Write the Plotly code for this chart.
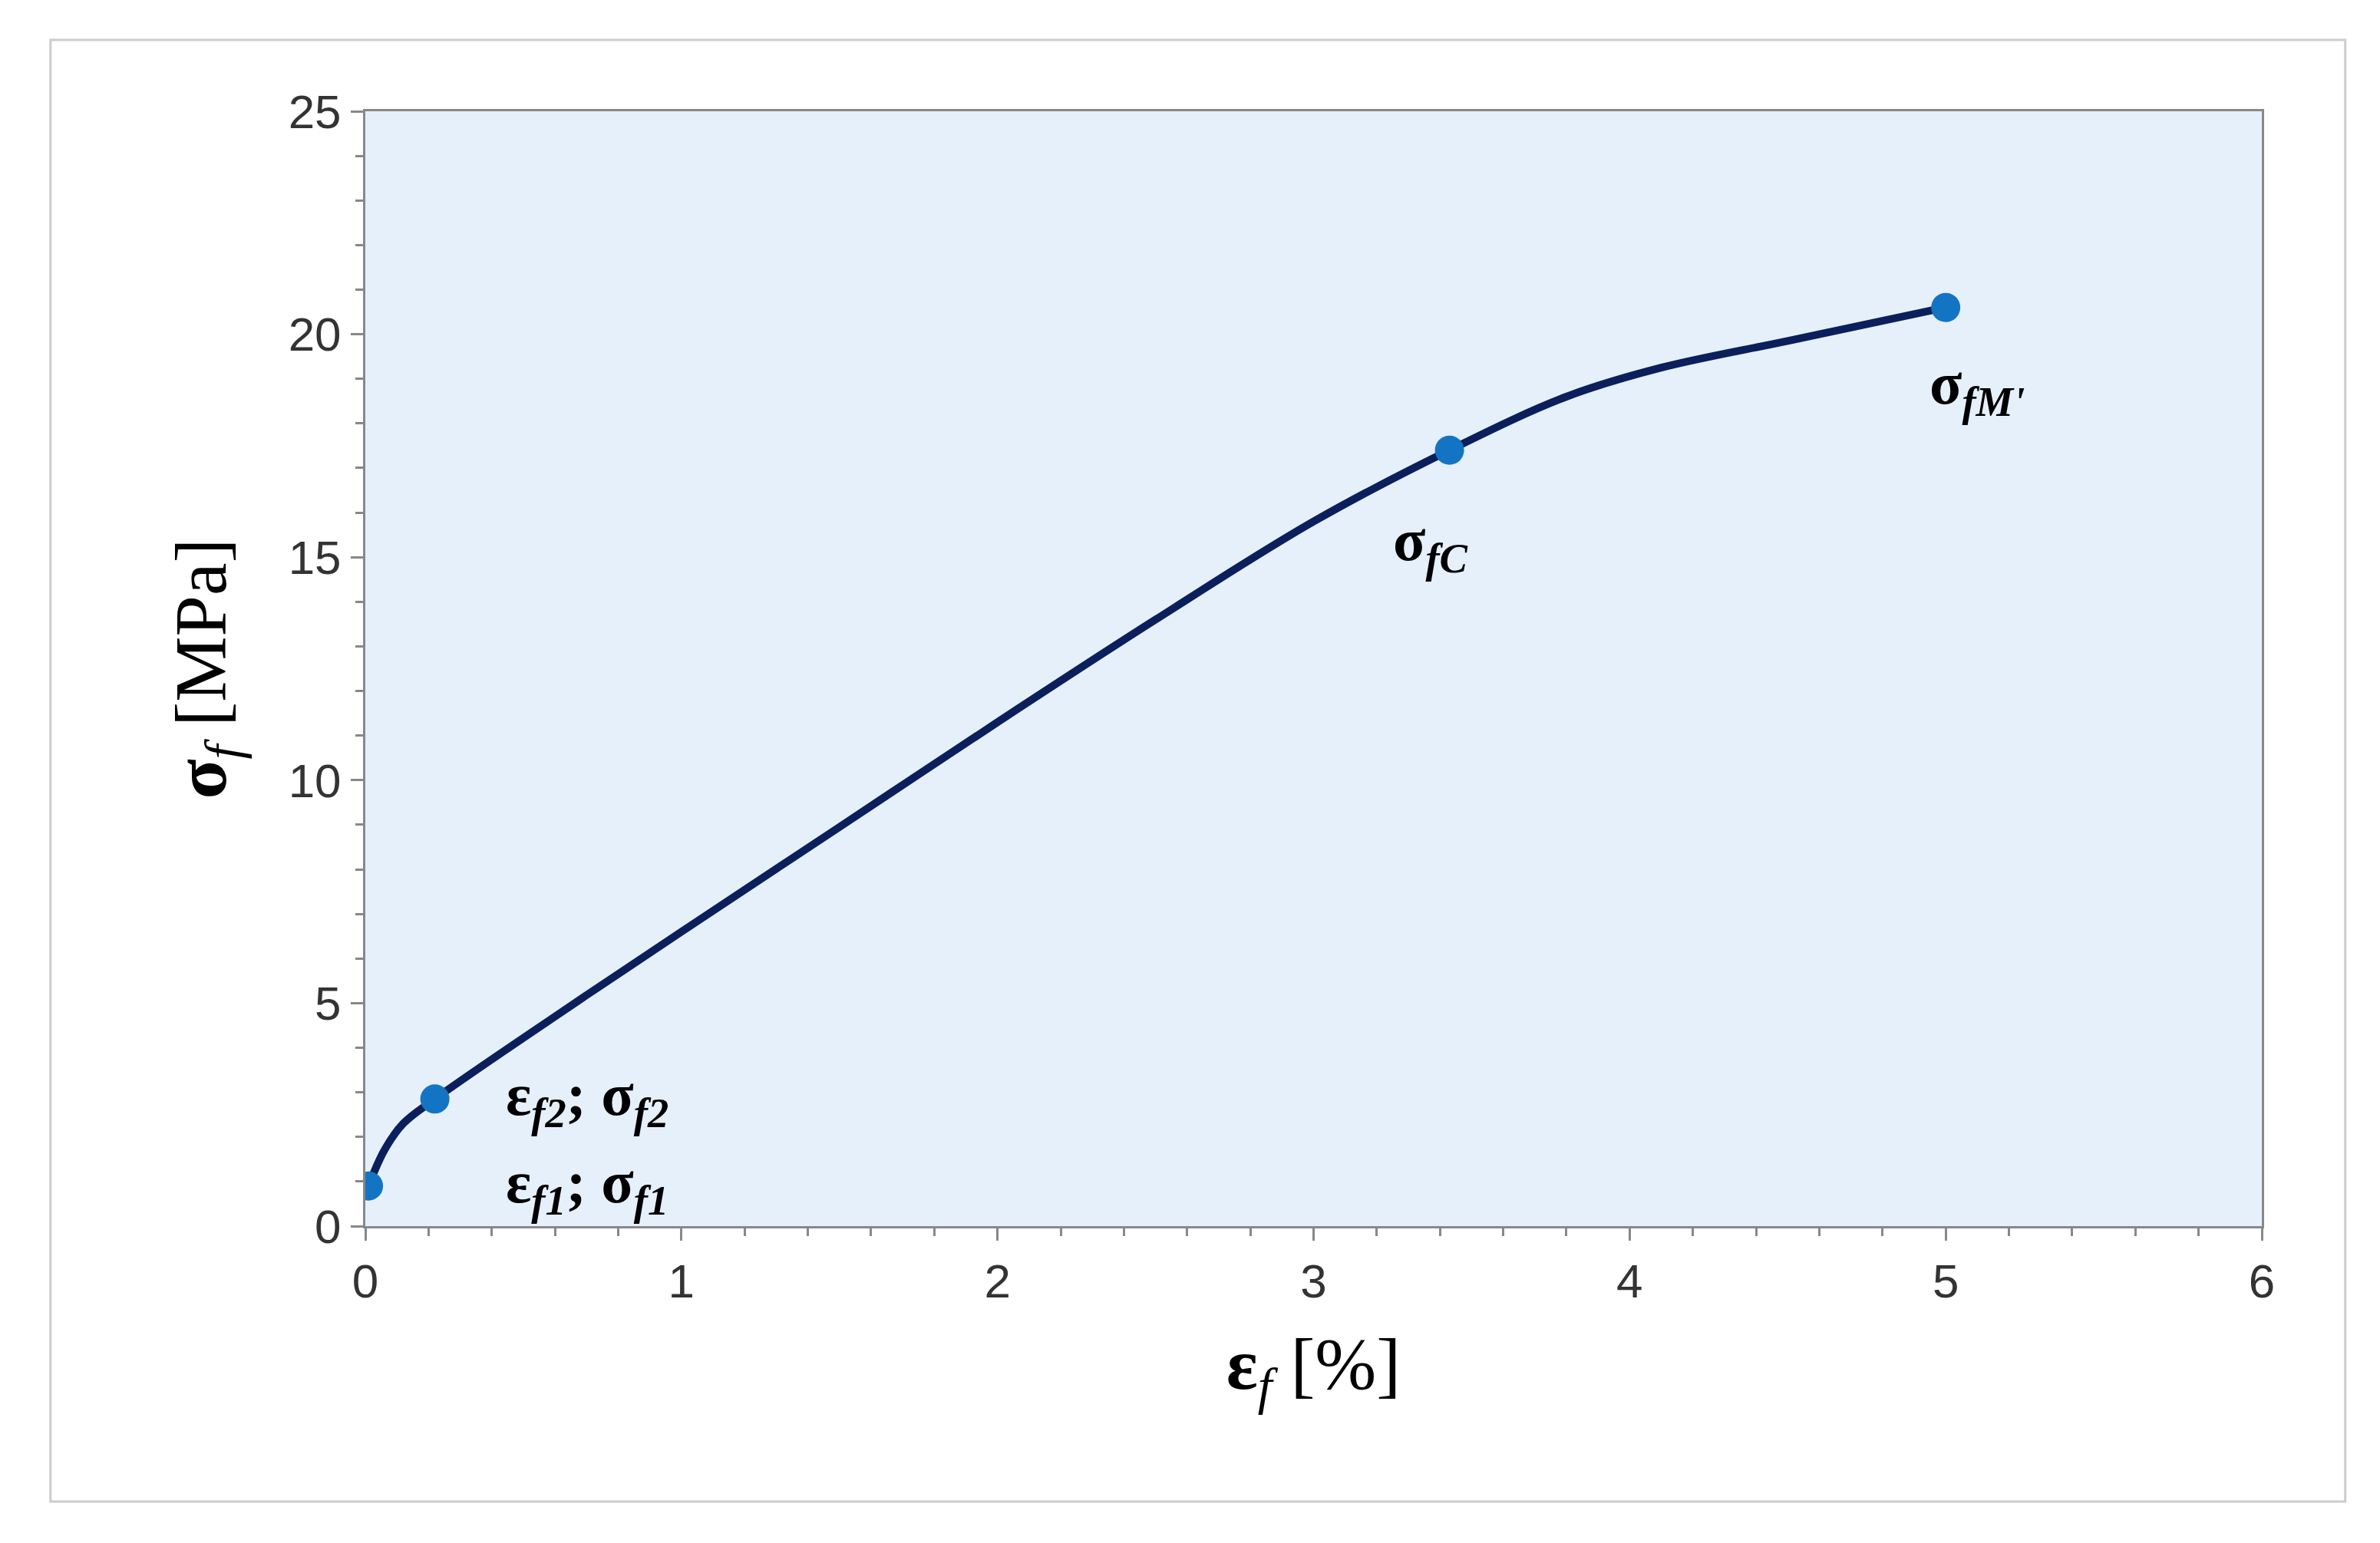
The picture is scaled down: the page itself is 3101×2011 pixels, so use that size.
import plotly.graph_objects as go

curve_x = [0.01, 0.06, 0.12, 0.22, 0.6, 1.0, 1.5, 2.0, 2.5, 3.0, 3.43, 3.8, 4.1, 4.5, 5.0]
curve_y = [0.9, 1.7, 2.3, 2.85, 4.7, 6.6, 8.95, 11.3, 13.6, 15.8, 17.4, 18.6, 19.25, 19.85, 20.6]
pt_x = [0.01, 0.22, 3.43, 5.0]
pt_y = [0.9, 2.85, 17.4, 20.6]
labels = ["ε<sub><i>f1</i></sub>; σ<sub><i>f1</i></sub>", "ε<sub><i>f2</i></sub>; σ<sub><i>f2</i></sub>",
          "σ<sub><i>fC</i></sub>", "σ<sub><i>fM'</i></sub>"]
lab_x = [0.44, 0.44, 3.37, 5.1]
lab_y = [0.9, 2.85, 15.3, 18.8]

fig = go.Figure()
fig.add_trace(go.Scatter(x=curve_x, y=curve_y, mode="lines", line=dict(color="#0b1f5c", width=10, shape="spline"), hoverinfo="skip"))
fig.add_trace(go.Scatter(x=pt_x, y=pt_y, mode="markers", marker=dict(color="#1474c4", size=38)))
for x, y, t in zip(lab_x, lab_y, labels):
    fig.add_annotation(x=x, y=y, text="<b>" + t + "</b>", showarrow=False, xanchor="left" if x < 1 else "center",
                       font=dict(family="Liberation Serif", size=78, color="black"))

axis_common = dict(showgrid=False, zeroline=False, showline=True, linecolor="#888", linewidth=3, mirror=True,
                   ticks="outside", ticklen=16, tickwidth=3, tickcolor="#888",
                   tickfont=dict(family="Liberation Sans", size=62, color="#333"))
fig.update_xaxes(range=[0, 6], dtick=1, minor=dict(dtick=0.2, ticks="outside", ticklen=10, tickcolor="#888", tickwidth=3),
                 title=dict(text="<b>ε</b><sub><i>f</i></sub> [%]", font=dict(family="Liberation Serif", size=96, color="black"), standoff=40),
                 **axis_common)
fig.update_yaxes(range=[0, 25], dtick=5, minor=dict(dtick=1, ticks="outside", ticklen=10, tickcolor="#888", tickwidth=3),
                 title=dict(text="<b>σ</b><sub><i>f</i></sub> [MPa]", font=dict(family="Liberation Serif", size=96, color="black"), standoff=50),
                 **axis_common)
fig.add_shape(type="rect", xref="paper", yref="paper", x0=-0.166, x1=1.044, y0=-0.247, y1=1.064,
              line=dict(color="#ccc", width=3), fillcolor="rgba(0,0,0,0)")
fig.update_layout(width=3101, height=2011, paper_bgcolor="white", plot_bgcolor="#e6f0fa", showlegend=False,
                  margin=dict(l=468, r=162, t=137, b=421))
fig.write_html("out.html")
